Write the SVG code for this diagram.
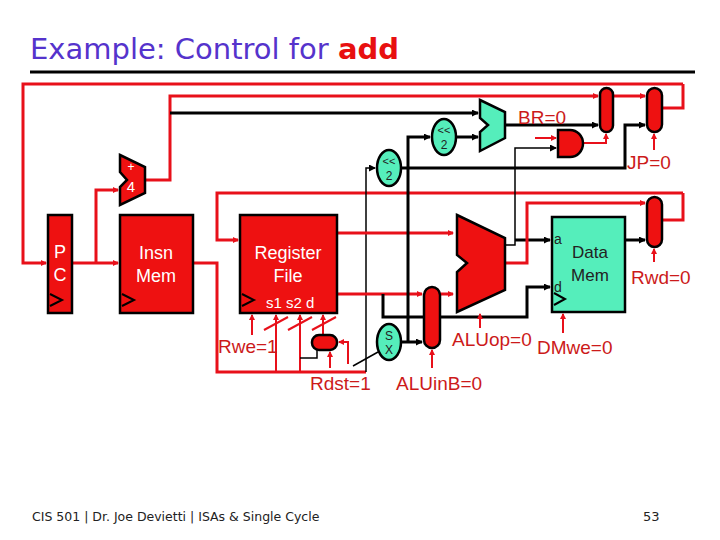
<svg xmlns="http://www.w3.org/2000/svg" width="720" height="540" viewBox="0 0 720 540">
<defs>
<marker id="ar" markerWidth="6" markerHeight="6" refX="5" refY="3" orient="auto" markerUnits="userSpaceOnUse"><path d="M0,0 L6,3 L0,6 z" fill="#e8101a"/></marker>
<marker id="ab" markerWidth="7" markerHeight="7" refX="6" refY="3.5" orient="auto" markerUnits="userSpaceOnUse"><path d="M0,0 L7,3.5 L0,7 z" fill="#000"/></marker>
</defs>
<style>
text{font-family:"Liberation Sans",Arial,sans-serif}
.r{stroke:#e8101a;stroke-width:3;fill:none}
.rt{stroke:#e8101a;stroke-width:2;fill:none}
.b{stroke:#000;stroke-width:3;fill:none}
.bt{stroke:#000;stroke-width:1.5;fill:none}
.red{fill:#ee1111;stroke:#000;stroke-width:2.5}
.teal{fill:#55eebb;stroke:#000;stroke-width:2.5}
.lbl{fill:#cc1a1a;font-size:19px}
.wt{fill:#fff;font-size:18px}
.clk{fill:none;stroke:#000;stroke-width:2}
</style>
<rect width="720" height="540" fill="#fff"/>
<text x="30" y="59" font-size="29" fill="#5533cc" style="font-family:'DejaVu Sans',Verdana,sans-serif">Example: Control for <tspan fill="#e81010" font-weight="bold">add</tspan></text>
<line x1="30" y1="72" x2="695" y2="72" stroke="#000" stroke-width="3"/>

<g id="connectors">
<polyline class="r" points="683,84 23,84 23,263 46,263" marker-end="url(#ar)"/>
<polyline class="r" points="662,108 683,108 683,84"/>
<polyline class="r" points="145,180 170,180 170,96 598,96" marker-end="url(#ar)"/>
<polyline class="r" points="613,96 645,96" marker-end="url(#ar)"/>
<polyline class="r" points="73,263 118,263" marker-end="url(#ar)"/>
<polyline class="r" points="96,263 96,190 118,190" marker-end="url(#ar)"/>
<polyline class="b" points="170,113 478,113" marker-end="url(#ab)"/>
<polyline class="r" points="683,193 217,193 217,240 238,240" marker-end="url(#ar)"/>
<polyline class="r" points="662,220 683,220 683,193"/>
<polyline class="r" points="193,263 217,263 217,372 366,372"/>
<polyline class="bt" points="366,372 366,168 375,168" marker-end="url(#ab)"/>
<line class="bt" x1="353" y1="366" x2="378" y2="352"/>
<polyline class="r" points="337,233 453,233" marker-end="url(#ar)"/>
<polyline class="r" points="337,294 422,294" marker-end="url(#ar)"/>
<polyline class="r" points="440,294 453,294" marker-end="url(#ar)"/>
<polyline class="b" points="401,342 422,342" marker-end="url(#ab)"/>
<polyline class="b" points="408,342 408,137 430,137" marker-end="url(#ab)"/>
<polyline class="b" points="457,137 478,137" marker-end="url(#ab)"/>
<polyline class="b" points="505,125 598,125" marker-end="url(#ab)"/>
<polyline class="b" points="401,168 625,168 625,125 645,125" marker-end="url(#ab)"/>
<polyline class="rt" points="535,138 556,138" marker-end="url(#ar)"/>
<polyline class="rt" points="583,143 606,143 606,134" marker-end="url(#ar)"/>
<polyline class="bt" points="505,245 515,245 515,148 556,148" marker-end="url(#ab)"/>
<polyline class="b" points="515,240 550,240" marker-end="url(#ab)"/>
<polyline class="r" points="505,263 527,263 527,203 645,203" marker-end="url(#ar)"/>
<polyline class="b" points="625,240 645,240" marker-end="url(#ab)"/>
<polyline class="b" points="383,294 383,317 527,317 527,287 550,287" marker-end="url(#ab)"/>
<polyline class="rt" points="252,335 252,315" marker-end="url(#ar)"/>
<polyline class="rt" points="276,372 276,315" marker-end="url(#ar)"/>
<polyline class="rt" points="300,372 300,315" marker-end="url(#ar)"/>
<polyline class="rt" points="323,336 323,315" marker-end="url(#ar)"/>
<line class="rt" x1="264" y1="330" x2="288" y2="317"/>
<line class="rt" x1="288" y1="330" x2="312" y2="317"/>
<line class="rt" x1="312" y1="330" x2="336" y2="317"/>
<polyline class="bt" points="317,349 317,358 300,358"/>
<polyline class="rt" points="348,364 348,342 339,342" marker-end="url(#ar)"/>
<polyline class="rt" points="330,368 330,352" marker-end="url(#ar)"/>
<polyline class="rt" points="432,368 432,350" marker-end="url(#ar)"/>
<polyline class="rt" points="480,328 480,314" marker-end="url(#ar)"/>
<polyline class="rt" points="563,333 563,314" marker-end="url(#ar)"/>
<polyline class="rt" points="654,150 654,134" marker-end="url(#ar)"/>
<polyline class="rt" points="654,262 654,249" marker-end="url(#ar)"/>
</g>

<g id="pc"><rect class="red" x="48" y="215" width="24" height="98"/><text class="wt" x="60" y="258" text-anchor="middle">P</text><text class="wt" x="60" y="281" text-anchor="middle">C</text><polyline class="clk" points="50,294 62,300 50,306"/></g>
<g id="adder4"><polygon class="red" points="120,155 145,167 145,193 120,205 120,187 127,180 120,172"/><text x="131" y="171" fill="#fff" font-size="12" text-anchor="middle">+</text><text x="131" y="192" fill="#fff" font-size="15" text-anchor="middle">4</text></g>
<g id="insnmem"><rect class="red" x="120" y="215" width="73" height="98"/><text class="wt" x="156" y="259" text-anchor="middle">Insn</text><text class="wt" x="156" y="282" text-anchor="middle">Mem</text><polyline class="clk" points="122,294 134,300 122,306"/></g>
<g id="regfile"><rect class="red" x="240" y="215" width="97" height="98"/><text class="wt" x="288" y="259" text-anchor="middle">Register</text><text class="wt" x="288" y="282" text-anchor="middle">File</text><text x="266" y="308" fill="#fff" font-size="15">s1 s2  d</text><polyline class="clk" points="242,294 254,300 242,306"/></g>
<g id="rdstmux"><rect class="red" x="312" y="335" width="25" height="15" rx="7"/></g>
<g id="sx"><ellipse class="teal" cx="389" cy="342" rx="12" ry="18"/><text x="389" y="340" font-size="12" text-anchor="middle" fill="#222">S</text><text x="389" y="354" font-size="12" text-anchor="middle" fill="#222">X</text></g>
<g id="shl2a"><ellipse class="teal" cx="389" cy="168" rx="12" ry="18"/><text x="389" y="165" font-size="11" text-anchor="middle" fill="#222">&lt;&lt;</text><text x="389" y="180" font-size="12" text-anchor="middle" fill="#222">2</text></g>
<g id="shl2b"><ellipse class="teal" cx="444" cy="137" rx="12" ry="18"/><text x="444" y="134" font-size="11" text-anchor="middle" fill="#222">&lt;&lt;</text><text x="444" y="149" font-size="12" text-anchor="middle" fill="#222">2</text></g>
<g id="braddr"><polygon class="teal" points="480,100 505,112 505,138 480,151 480,132 488,125 480,118"/></g>
<g id="aluinbmux"><rect class="red" x="424" y="287" width="16" height="61" rx="8"/></g>
<g id="alu"><polygon class="red" points="457,215 505,238 505,290 457,312 457,272 467,263 457,255"/></g>
<g id="datamem"><rect class="teal" x="552" y="217" width="73" height="95"/><text x="590" y="258" font-size="17" text-anchor="middle" fill="#222">Data</text><text x="590" y="281" font-size="17" text-anchor="middle" fill="#222">Mem</text><text x="554" y="244" font-size="14" fill="#222">a</text><text x="554" y="292" font-size="14" fill="#222">d</text><polyline class="clk" points="554,293 565,299 554,305"/></g>
<g id="andgate"><path class="red" d="M558,130 L570,130 A13,13.5 0 0 1 570,157 L558,157 Z"/></g>
<g id="mux1"><rect class="red" x="600" y="88" width="13" height="44" rx="6.5"/></g>
<g id="mux2"><rect class="red" x="647" y="88" width="15" height="44" rx="7.5"/></g>
<g id="mux3"><rect class="red" x="647" y="197" width="15" height="50" rx="7.5"/></g>

<g id="labels">
<text class="lbl" x="518" y="124">BR=0</text>
<text class="lbl" x="627" y="169">JP=0</text>
<text class="lbl" x="631" y="284">Rwd=0</text>
<text class="lbl" x="218" y="353">Rwe=1</text>
<text class="lbl" x="310" y="390">Rdst=1</text>
<text class="lbl" x="396" y="390">ALUinB=0</text>
<text class="lbl" x="452" y="346">ALUop=0</text>
<text class="lbl" x="537" y="354">DMwe=0</text>
</g>
<text x="32" y="521" font-size="12.5" fill="#222" style="font-family:'DejaVu Sans',Tahoma,sans-serif">CIS 501  |  Dr. Joe Devietti  |  ISAs &amp; Single Cycle</text>
<text x="643" y="521" font-size="13" fill="#222" style="font-family:'DejaVu Sans',Tahoma,sans-serif">53</text>
</svg>
